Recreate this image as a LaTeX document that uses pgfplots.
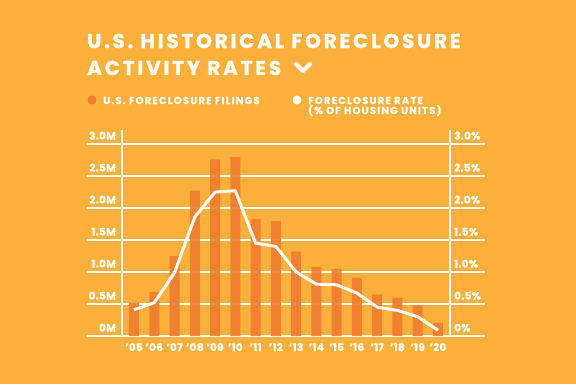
\documentclass[border=0pt]{standalone}
\usepackage{pgfplots}
\pgfplotsset{compat=1.18}
\usepackage{fontspec}
\setmainfont{Poppins}
\definecolor{bg}{HTML}{FBB03B}
\definecolor{bar}{HTML}{F07D30}
\newcommand{\tfont}{\fontsize{20}{22}\selectfont\bfseries\addfontfeatures{LetterSpace=14,FakeBold=1.2}}
\newcommand{\lfont}{\fontsize{10}{11}\selectfont\bfseries\addfontfeatures{LetterSpace=12,FakeBold=0.8}}
\newcommand{\kfont}{\fontsize{10.5}{11}\selectfont\bfseries\addfontfeatures{LetterSpace=3,FakeBold=0.8}}
\begin{document}
\begin{tikzpicture}[x=1pt,y=1pt]
\fill[bg] (0,0) rectangle (576,384);
% title
\node[anchor=base west,inner sep=0,text=white] at (87,336) {\tfont U.S. HISTORICAL FORECLOSURE};
\node[anchor=base west,inner sep=0,text=white] at (87,309) {\tfont ACTIVITY RATES};
\draw[white,line width=4pt,line cap=round,line join=round] (296,320) -- (303,313) -- (310,320);
% legend
\fill[bar] (92,284) circle (4.5);
\node[anchor=base west,inner sep=0,text=white] at (103,280) {\lfont U.S. FORECLOSURE FILINGS};
\fill[white] (297,284) circle (4.5);
\node[anchor=base west,inner sep=0,text=white] at (308,280) {\lfont FORECLOSURE RATE};
\node[anchor=base west,inner sep=0,text=white] at (308,270) {\lfont (\% OF HOUSING UNITS)};
\pgfplotsset{
  common/.style={
    at={(87pt,48pt)}, anchor=south west,
    width=398pt, height=206pt, scale only axis,
    xmin=-2.319, xmax=17.32, ymin=0, ymax=3.21875,
    axis line style={draw=none},
    major tick length=0pt,
    ytick={0,0.5,1,1.5,2,2.5,3},
    /pgf/number format/assume math mode=true,
  }
}
\begin{axis}[common,
  xtick={0,...,15},
  xticklabels={{’05},{’06},{’07},{’08},{’09},{’10},{’11},{’12},{’13},{’14},{’15},{’16},{’17},{’18},{’19},{’20}},
  xticklabel style={font=\kfont, text=white, anchor=base, yshift=-15pt, inner sep=0pt},
  yticklabels={0M,0.5M,1.0M,1.5M,2.0M,2.5M,3.0M},
  yticklabel style={font=\kfont, text=white, anchor=base east, xshift=29pt, yshift=4.5pt, inner sep=0pt},
  ymajorgrids, grid style={white, line width=1.5pt},
  extra x ticks={-0.592,15.59}, extra x tick labels={},
  extra x tick style={grid=major, grid style={white,line width=1.5pt}},
]
\addplot[ybar, bar width=10pt, fill=bar, draw=none, fill opacity=0.92] coordinates {
(0,0.52) (1,0.69) (2,1.25) (3,2.27) (4,2.76) (5,2.80) (6,1.83) (7,1.80)
(8,1.32) (9,1.08) (10,1.05) (11,0.91) (12,0.65) (13,0.60) (14,0.48) (15,0.21)};
\end{axis}
\begin{axis}[common,
  xtick=\empty,
  yticklabel pos=right,
  yticklabels={0\%,0.5\%,1.0\%,1.5\%,2.0\%,2.5\%,3.0\%},
  yticklabel style={font=\kfont, text=white, anchor=base west, xshift=-31pt, yshift=4.5pt, inner sep=0pt},
]
\addplot[white, line width=3pt, line join=round] coordinates {
(0,0.41) (1,0.52) (2,0.99) (3,1.86) (4,2.25) (5,2.27) (6,1.45) (7,1.40)
(8,1.00) (9,0.81) (10,0.80) (11,0.67) (12,0.45) (13,0.40) (14,0.30) (15,0.09)};
\end{axis}
\end{tikzpicture}
\end{document}
